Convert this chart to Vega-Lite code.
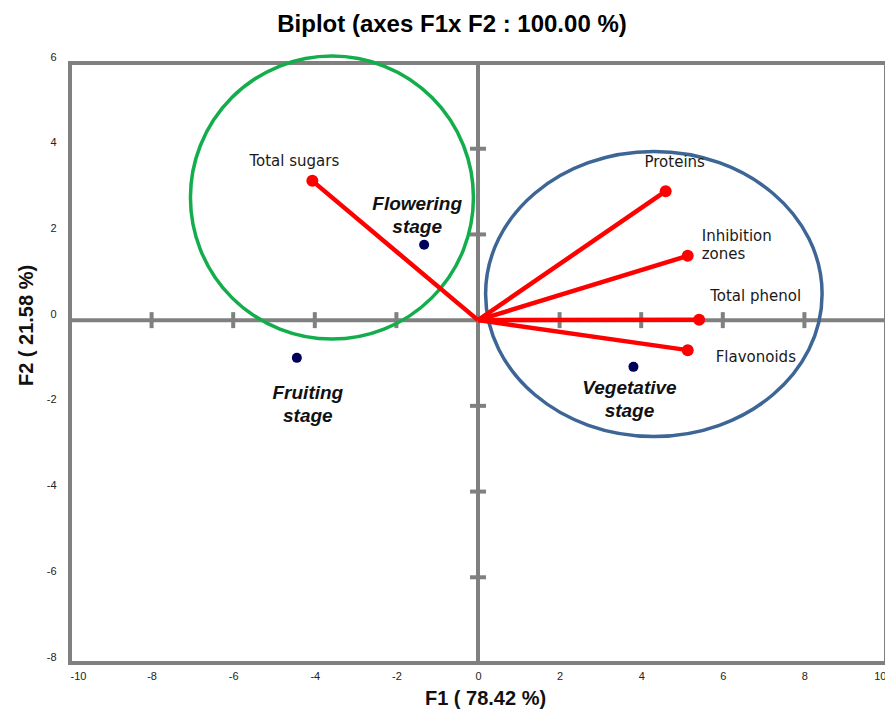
{
  "$schema": "https://vega.github.io/schema/vega-lite/v6.json",
  "width": 816,
  "height": 600,
  "autosize": {"type": "none"},
  "padding": {"left": 70, "top": 63, "right": 0, "bottom": 50},
  "background": "white",
  "title": {
    "text": "Biplot (axes F1x F2 : 100.00 %)",
    "font": "Liberation Sans",
    "fontSize": 24,
    "fontWeight": "bold",
    "color": "#000000",
    "anchor": "middle",
    "dx": -26,
    "offset": 12
  },
  "datasets": {
    "vars": [
      {"name": "Total sugars", "label": "Total sugars", "x": -4.06, "y": 3.25},
      {"name": "Proteins", "label": "Proteins", "x": 4.60, "y": 3.01},
      {"name": "Inhibition zones", "label": "Inhibition\n zones", "x": 5.14, "y": 1.50},
      {"name": "Total phenol", "label": "Total phenol", "x": 5.42, "y": 0.01},
      {"name": "Flavonoids", "label": "Flavonoids", "x": 5.14, "y": -0.70}
    ],
    "obs": [
      {"name": "Flowering stage", "label": "Flowering\nstage", "x": -1.32, "y": 1.76},
      {"name": "Fruiting stage", "label": "Fruiting\nstage", "x": -4.44, "y": -0.88},
      {"name": "Vegetative stage", "label": "Vegetative\nstage", "x": 3.81, "y": -1.09}
    ],
    "zero": [{"x": 0, "y": 0}],
    "xt": [{"x": -8, "y": 0}, {"x": -6, "y": 0}, {"x": -4, "y": 0}, {"x": -2, "y": 0}, {"x": 2, "y": 0}, {"x": 4, "y": 0}, {"x": 6, "y": 0}, {"x": 8, "y": 0}],
    "yt": [{"x": 0, "y": 4}, {"x": 0, "y": 2}, {"x": 0, "y": -2}, {"x": 0, "y": -4}, {"x": 0, "y": -6}],
    "green": [{"x": -3.58, "y": 2.86}],
    "blue": [{"x": 4.31, "y": 0.61}]
  },
  "layer": [
    {
      "data": {"name": "vars"},
      "mark": {"type": "rule", "color": "#FF0000", "strokeWidth": 0, "opacity": 0},
      "encoding": {
        "x": {"field": "x", "type": "quantitative", "scale": {"domain": [-10, 10], "nice": false, "zero": false},
          "axis": {"values": [-10, -8, -6, -4, -2, 0, 2, 4, 6, 8, 10], "labelExpr": "'' + datum.value", "title": "F1 ( 78.42 %)", "labelPadding": 7, "titlePadding": 7, "titleX": 415}},
        "y": {"field": "y", "type": "quantitative", "scale": {"domain": [-8, 6], "nice": false, "zero": false},
          "axis": {"values": [-8, -6, -4, -2, 0, 2, 4, 6], "labelExpr": "'' + datum.value", "title": "F2 ( 21.58 %)", "labelPadding": 14, "titlePadding": 10, "labelOffset": -6, "titleY": 262}}
      }
    },
    {
      "data": {"name": "zero"},
      "mark": {"type": "rule", "color": "#808080", "strokeWidth": 4},
      "encoding": {
        "x": {"field": "x", "type": "quantitative"}
      }
    },
    {
      "data": {"name": "zero"},
      "mark": {"type": "rule", "color": "#808080", "strokeWidth": 4},
      "encoding": {
        "y": {"field": "y", "type": "quantitative"}
      }
    },
    {
      "data": {"name": "xt"},
      "mark": {"type": "tick", "orient": "vertical", "color": "#808080", "size": 16, "thickness": 4, "opacity": 1},
      "encoding": {
        "x": {"field": "x", "type": "quantitative"},
        "y": {"field": "y", "type": "quantitative"}
      }
    },
    {
      "data": {"name": "yt"},
      "mark": {"type": "tick", "orient": "horizontal", "color": "#808080", "size": 16, "thickness": 4, "opacity": 1},
      "encoding": {
        "x": {"field": "x", "type": "quantitative"},
        "y": {"field": "y", "type": "quantitative"}
      }
    },
    {
      "data": {"name": "green"},
      "mark": {"type": "point", "shape": "circle", "size": 80089, "filled": false, "stroke": "#13AD4C", "strokeWidth": 3.5, "opacity": 1},
      "encoding": {
        "x": {"field": "x", "type": "quantitative"},
        "y": {"field": "y", "type": "quantitative"}
      }
    },
    {
      "data": {"name": "blue"},
      "mark": {"type": "point", "shape": "M -1 0 A 1 0.847 0 1 1 1 0 A 1 0.847 0 1 1 -1 0 Z", "size": 113232, "filled": false, "stroke": "#3D6696", "strokeWidth": 3.5, "opacity": 1},
      "encoding": {
        "x": {"field": "x", "type": "quantitative"},
        "y": {"field": "y", "type": "quantitative"}
      }
    },
    {
      "data": {"name": "vars"},
      "mark": {"type": "rule", "color": "#FF0000", "strokeWidth": 4.5},
      "encoding": {
        "x": {"field": "x", "type": "quantitative"},
        "y": {"field": "y", "type": "quantitative"},
        "x2": {"datum": 0},
        "y2": {"datum": 0}
      }
    },
    {
      "data": {"name": "vars"},
      "mark": {"type": "point", "shape": "circle", "filled": true, "color": "#FF0000", "size": 144, "opacity": 1},
      "encoding": {
        "x": {"field": "x", "type": "quantitative"},
        "y": {"field": "y", "type": "quantitative"}
      }
    },
    {
      "data": {"name": "obs"},
      "mark": {"type": "point", "shape": "circle", "filled": true, "color": "#00005A", "size": 100, "opacity": 1},
      "encoding": {
        "x": {"field": "x", "type": "quantitative"},
        "y": {"field": "y", "type": "quantitative"}
      }
    },
    {
      "data": {"name": "vars"},
      "transform": [{"filter": "datum.name === 'Total sugars'"}],
      "mark": {"type": "text", "font": "DejaVu Sans", "fontSize": 15, "color": "#1a1a1a", "align": "center", "baseline": "middle", "dx": -18, "dy": -20},
      "encoding": {
        "x": {"field": "x", "type": "quantitative"},
        "y": {"field": "y", "type": "quantitative"},
        "text": {"field": "label"}
      }
    },
    {
      "data": {"name": "vars"},
      "transform": [{"filter": "datum.name === 'Proteins'"}],
      "mark": {"type": "text", "font": "DejaVu Sans", "fontSize": 15, "color": "#1a1a1a", "align": "center", "baseline": "middle", "dx": 9, "dy": -29},
      "encoding": {
        "x": {"field": "x", "type": "quantitative"},
        "y": {"field": "y", "type": "quantitative"},
        "text": {"field": "label"}
      }
    },
    {
      "data": {"name": "vars"},
      "transform": [{"filter": "datum.name === 'Inhibition zones'"}],
      "mark": {"type": "text", "font": "DejaVu Sans", "fontSize": 15, "color": "#1a1a1a", "align": "left", "baseline": "middle", "dx": 14, "dy": -20, "lineBreak": "\n", "lineHeight": 18.5},
      "encoding": {
        "x": {"field": "x", "type": "quantitative"},
        "y": {"field": "y", "type": "quantitative"},
        "text": {"field": "label"}
      }
    },
    {
      "data": {"name": "vars"},
      "transform": [{"filter": "datum.name === 'Total phenol'"}],
      "mark": {"type": "text", "font": "DejaVu Sans", "fontSize": 15, "color": "#1a1a1a", "align": "left", "baseline": "middle", "dx": 11, "dy": -24},
      "encoding": {
        "x": {"field": "x", "type": "quantitative"},
        "y": {"field": "y", "type": "quantitative"},
        "text": {"field": "label"}
      }
    },
    {
      "data": {"name": "vars"},
      "transform": [{"filter": "datum.name === 'Flavonoids'"}],
      "mark": {"type": "text", "font": "DejaVu Sans", "fontSize": 15, "color": "#1a1a1a", "align": "left", "baseline": "middle", "dx": 28, "dy": 7},
      "encoding": {
        "x": {"field": "x", "type": "quantitative"},
        "y": {"field": "y", "type": "quantitative"},
        "text": {"field": "label"}
      }
    },
    {
      "data": {"name": "obs"},
      "transform": [{"filter": "datum.name === 'Flowering stage'"}],
      "mark": {"type": "text", "font": "Liberation Sans", "fontSize": 19, "fontWeight": "bold", "fontStyle": "italic", "color": "#111111", "align": "center", "baseline": "middle", "dx": -7, "dy": -41, "lineBreak": "\n", "lineHeight": 23},
      "encoding": {
        "x": {"field": "x", "type": "quantitative"},
        "y": {"field": "y", "type": "quantitative"},
        "text": {"field": "label"}
      }
    },
    {
      "data": {"name": "obs"},
      "transform": [{"filter": "datum.name === 'Fruiting stage'"}],
      "mark": {"type": "text", "font": "Liberation Sans", "fontSize": 19, "fontWeight": "bold", "fontStyle": "italic", "color": "#111111", "align": "center", "baseline": "middle", "dx": 11, "dy": 35, "lineBreak": "\n", "lineHeight": 23},
      "encoding": {
        "x": {"field": "x", "type": "quantitative"},
        "y": {"field": "y", "type": "quantitative"},
        "text": {"field": "label"}
      }
    },
    {
      "data": {"name": "obs"},
      "transform": [{"filter": "datum.name === 'Vegetative stage'"}],
      "mark": {"type": "text", "font": "Liberation Sans", "fontSize": 19, "fontWeight": "bold", "fontStyle": "italic", "color": "#111111", "align": "center", "baseline": "middle", "dx": -4, "dy": 21, "lineBreak": "\n", "lineHeight": 23},
      "encoding": {
        "x": {"field": "x", "type": "quantitative"},
        "y": {"field": "y", "type": "quantitative"},
        "text": {"field": "label"}
      }
    }
  ],
  "config": {
    "view": {"stroke": "#808080", "strokeWidth": 4},
    "axis": {
      "domain": false,
      "ticks": false,
      "grid": false,
      "labelFont": "Liberation Sans Narrow, Liberation Sans, sans-serif",
      "labelFontSize": 11,
      "labelColor": "#222222",
      "titleFont": "Liberation Sans",
      "titleFontSize": 20,
      "titleFontWeight": "bold",
      "titleColor": "#111111"
    }
  }
}
